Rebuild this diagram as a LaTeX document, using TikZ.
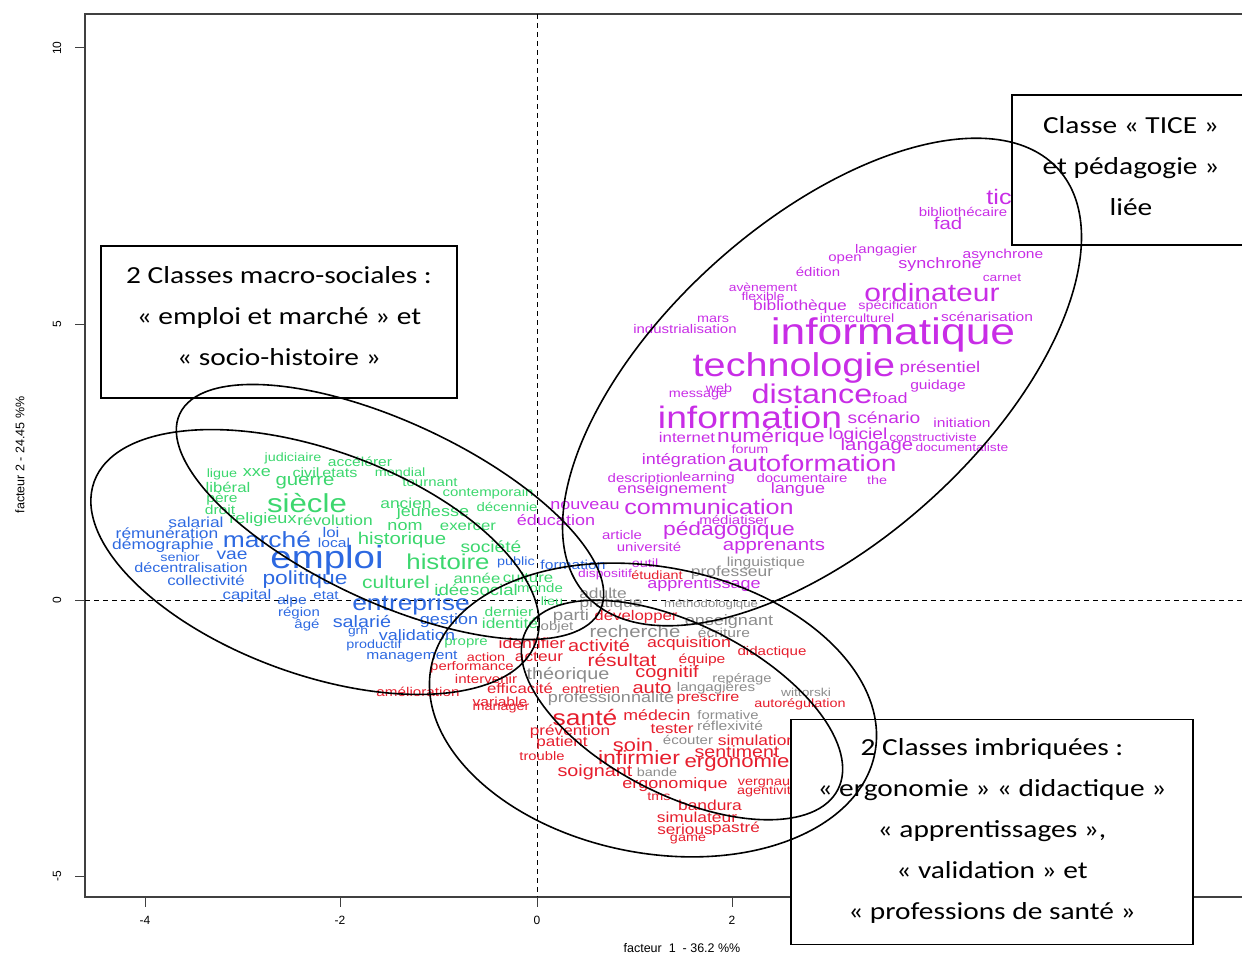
\documentclass[tikz,border=0pt]{standalone}
\usepackage{fontspec}
\setmainfont{Liberation Sans}
\newfontfamily\cloud{Liberation Sans}[FakeStretch=1.2]
\newfontfamily\boxfont{Carlito}[FakeStretch=1.2]
\definecolor{tice}{RGB}{200,45,230}
\definecolor{hist}{RGB}{60,215,110}
\definecolor{emploi}{RGB}{45,105,225}
\definecolor{sante}{RGB}{230,30,45}
\definecolor{neutre}{RGB}{140,140,140}
\begin{document}
\begin{tikzpicture}[x=1pt,y=-1pt,
  word/.style={inner sep=0pt,font=\cloud\fontsize{#1}{#1}\selectfont},
  classe/.style={draw,line width=1.2pt,fill=white,inner sep=0pt},
  classetxt/.style={align=center,inner sep=0pt,font=\boxfont\fontsize{24.5}{41}\selectfont},
  elli/.style={line width=1.6pt},
  axe/.style={dash pattern=on 5pt off 4pt,line width=1pt},
  tick/.style={font=\fontsize{12}{12}\selectfont}]
\useasboundingbox (0,0) rectangle (1242,955);
\draw[line width=1.2pt,black!75] (1250,14)--(85,14)--(85,897)--(1250,897);
\foreach \v/\y in {10/48,5/324,0/600,-5/876}
  {\draw[line width=1pt,black!75] (75,\y)--(85,\y);
   \node[tick,rotate=90] (ty\v) at (57,\y) {\v};}
\foreach \v/\x in {-4/145,-2/340,0/537,2/732}
  {\draw[line width=1pt,black!75] (\x,897)--(\x,907);
   \node[tick] (tx\v) at (\x,920) {\v};}
\node[font=\fontsize{12.5}{13}\selectfont] (ax1) at (682,948) {facteur\ \ 1\ \ -\ 36.2\ \%\%};
\node[font=\fontsize{12.5}{13}\selectfont,rotate=90] (ax2) at (20,455) {facteur\ 2\ -\ 24.45\ \%\%};
\draw[axe] (537,14)--(537,897);
\draw[axe] (85,600)--(1242,600);
\foreach \x/\y/\s/\t [count=\i] in {999/197/21/tic,963/212/12.5/bibliothécaire,948/223/17/fad,886/250/12.5/langagier,1003/255/13/asynchrone,845/259/12.5/open,940/265/15/synchrone,818/272/12.5/édition,1002/278/11.5/carnet,763/287/11.5/avènement,763/296/11.5/flexible,932/293/25/ordinateur,800/307/14.5/bibliothèque,898/306/12/spécification,713/319/12/mars,857/318/12/interculturel,987/317/13/scénarisation,685/329/12.5/industrialisation,893/335/37/informatique,794/368/33/technologie,940/368/15.5/présentiel,938/386/13/guidage,719/388/12/web,698/396/12/message,812/394/27/distance,890/398/15/foad,750/417/31/information,884/418/16/scénario,962/423/13/initiation,687/437/14/internet,771/437/19/numérique,858/435/16/logiciel,933/437/11.5/constructiviste,750/449/12/forum,877/446/17/langage,962/447/11.5/documentaliste,684/461/15/intégration,812/463/23/autoformation,644/479/12.5/description,707/478/13/learning,802/478/12.5/documentaire,877/480/12/the,672/490/14.5/enseignement,798/490/15/langue,585/506/15/nouveau,709/507/21/communication,556/520/15/éducation,734/520/12.5/médiatiser,622/535/12.5/article,729/530/19/pédagogique,649/547/12.5/université,774/547/17/apprenants,645/563/12/outil,605/575/11.5/dispositif,704/585/15/apprentissage}
  \node[word=\s,text=tice] (m\i) at (\x,\y) {\t};
\foreach \x/\y/\s/\t [count=\i] in {293/458/12/judiciaire,360/462/13/accélérer,222/474/12/ligue,257/473/15/xxe,306/473/13.5/civil,340/473/13.5/etats,400/472/12/mondial,228/487/14/libéral,305/483/17/guerre,430/483/12.5/tournant,222/499/13/père,488/493/12.5/contemporain,307/503/26/siècle,220/510/13/droit,406/503/14.5/ancien,433/513/15/jeunesse,507/507/12.5/décennie,263/520/15/religieux,335/520/14.5/révolution,405/527/15/nom,468/527/14/exercer,402/540/17/historique,491/547/16/société,448/562/21.5/histoire,396/582/17.5/culturel,477/578/14/année,528/577/14/culture,452/590/15.5/idée,494/590/15.5/social,540/588/12.5/monde,552/601/12/lieu,509/612/13/dernier,510/623/14.5/identité,466/643/12.5/propre}
  \node[word=\s,text=hist] (h\i) at (\x,\y) {\t};
\foreach \x/\y/\s/\t [count=\i] in {196/522/14.5/salarial,167/533/14.5/rémunération,163/546/14.5/démographie,267/540/22/marché,331/532/14/loi,334/543/13/local,180/557/12/senior,232/555/16/vae,327/560/32/emploi,191/568/13.5/décentralisation,206/580/14/collectivité,305/580/19/politique,516/562/12/public,573/565/13/formation,247/596/14/capital,292/601/13/alpe,326/596/12.5/etat,299/613/12.5/région,307/625/12.5/âgé,411/605/22/entreprise,362/621/16.5/salarié,449/621/15/gestion,358/632/11.5/grh,417/635/15/validation,374/645/12/productif,412/657/13/management}
  \node[word=\s,text=emploi] (e\i) at (\x,\y) {\t};
\foreach \x/\y/\s/\t [count=\i] in {766/563/13/linguistique,732/573/14.5/professeur,603/593/14.5/adulte,611/604/14.5/pratique,711/605/11/méthodologique,571/616/15.5/parti,557/627/12.5/objet,729/622/15/enseignant,635/631/17/recherche,724/633/13/écriture,568/675/16.5/théorique,742/679/12.3/repérage,716/688/12.6/langagières,806/692/11.5/wittorski,611/699/15/professionnalité,728/715/12.4/formative,730/726/13/réflexivité,688/740/12.5/écouter,657/772/12/bande}
  \node[word=\s,text=neutre] (n\i) at (\x,\y) {\t};
\foreach \x/\y/\s/\t [count=\i] in {657/575/12/étudiant,636/617/14/développer,532/643/14.7/identifier,599/645/16.6/activité,689/644/14.8/acquisition,772/652/12.6/didactique,486/657/12/action,539/657/14.4/acteur,622/660/17.5/résultat,702/660/13/équipe,472/667/12.4/performance,667/673/16.6/cognitif,486/679/12.6/intervenir,418/692/12.7/amélioration,520/688/14/efficacité,591/689/12.4/entretien,652/688/16.7/auto,708/698/13.5/prescrire,800/704/12/autorégulation,500/702/13/variable,501/709/12/manager,585/718/22/santé,657/715/14.8/médecin,570/732/14.3/prévention,672/729/14.3/tester,562/743/14.2/patient,633/745/18.2/soin,757/740/14.5/simulation,542/756/12.3/trouble,639/758/19.2/infirmier,737/752/16.3/sentiment,737/763/18.5/ergonomie,595/772/16.5/soignant,675/785/15/ergonomique,768/782/12/vergnaud,768/791/12/agentivité,659/797/12/tms,710/805/14.5/bandura,697/817/14.5/simulateur,685/829/14.3/serious,736/829/14.3/pastré,688/840/12/game}
  \node[word=\s,text=sante] (s\i) at (\x,\y) {\t};
\node[classe,minimum width=356,minimum height=152] (macro) at (279,322) {};
\node[classetxt] (macrot) at (279,316)
  {2 Classes macro-sociales :\\« emploi et marché » et\\« socio-histoire »};
\node[classe,minimum width=238,minimum height=150] (tice) at (1131,170) {};
\node[classetxt] (ticet) at (1131,166)
  {Classe « TICE »\\et pédagogie »\\liée};
\node[classe,minimum width=402,minimum height=225] (imbr) at (992,832) {};
\node[classetxt] (imbrt) at (992,831)
  {2 Classes imbriquées :\\« ergonomie » « didactique »\\« apprentissages »,\\« validation » et\\« professions de santé »};
\draw[elli,rotate around={42:(822,382)}] (822,382) ellipse [x radius=318,y radius=160];
\draw[elli,rotate around={-20:(315,562)}] (315,562) ellipse [x radius=235,y radius=112];
\draw[elli,rotate around={-25:(390,512)}] (390,512) ellipse [x radius=232,y radius=90];
\draw[elli,rotate around={-11:(653,710)}] (653,710) ellipse [x radius=226,y radius=143];
\draw[elli,rotate around={-27:(682,710)}] (682,710) ellipse [x radius=175,y radius=85];
\end{tikzpicture}
\end{document}
